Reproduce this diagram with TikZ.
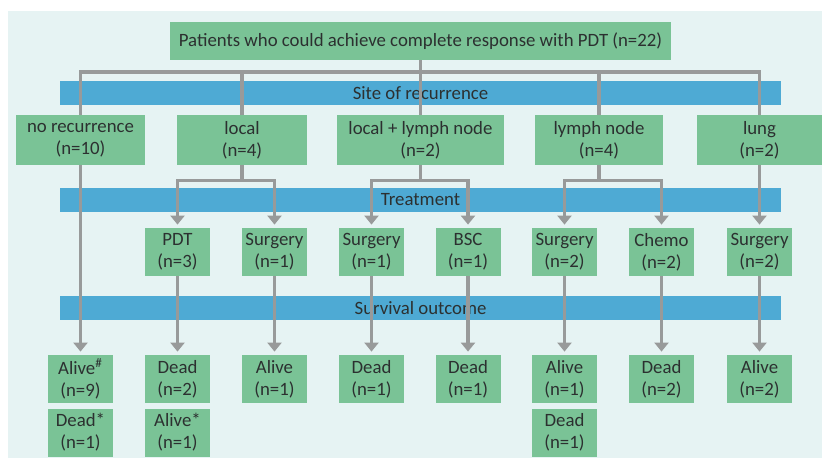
\documentclass[tikz,border=0pt]{standalone}
\usepackage{fontspec}
\setmainfont{Carlito}
\usetikzlibrary{arrows.meta}
\definecolor{boxgreen}{RGB}{122,195,150}
\definecolor{barblue}{RGB}{78,170,212}
\definecolor{linegray}{RGB}{152,154,154}
\definecolor{txtgray}{RGB}{44,48,48}
\definecolor{bgcyan}{RGB}{230,243,243}

\begin{document}
\begin{tikzpicture}
[x=0.5pt,y=-0.5pt,
 every node/.style={text=txtgray,font=\fontsize{9.4}{11}\selectfont},
 box/.style={fill=boxgreen,inner sep=0pt,align=center},
 cat/.style={box,minimum height=25pt},
 small/.style={box,minimum width=32.5pt,minimum height=24pt},
 bar/.style={fill=barblue,inner sep=0pt,minimum width=360.5pt,minimum height=12pt},
 line/.style={draw=linegray,line width=1.6pt},
 arrow/.style={line,-{Triangle[width=7pt,length=4.5pt]},shorten >=1.5pt}]
\useasboundingbox (0,0) rectangle (822,458);
\fill[white] (0,0) rectangle (822,458);
\fill[bgcyan] (8,11) rectangle (822,458);

\node[box,minimum width=250.5pt,minimum height=19pt] (v0) at (420.5,41) {Patients who could achieve complete response with PDT (n=22)};

\node[bar] (s1) at (420.5,93) {Site of recurrence};
\node[bar] (s2) at (420.5,200) {Treatment};
\node[bar] (s3) at (420.5,308.5) {Survival outcome};

\node[cat,minimum width=64.5pt] (v1) at (80.5,140) {no recurrence\\(n=10)};
\node[cat,minimum width=65pt] (v2) at (242,140) {local\\(n=4)};
\node[cat,minimum width=83.5pt] (v3) at (420.5,140) {local + lymph node\\(n=2)};
\node[cat,minimum width=64pt] (v4) at (599,140) {lymph node\\(n=4)};
\node[cat,minimum width=62.5pt] (v5) at (759.5,140) {lung\\(n=2)};

\node[small] (v6) at (177.5,252) {PDT\\(n=3)};
\node[small] (v7) at (274.5,252) {Surgery\\(n=1)};
\node[small] (v8) at (371.5,252) {Surgery\\(n=1)};
\node[small] (v9) at (468,252) {BSC\\(n=1)};
\node[small] (v10) at (564.5,252) {Surgery\\(n=2)};
\node[small] (v11) at (661.5,252) {Chemo\\(n=2)};
\node[small] (v12) at (759.5,252) {Surgery\\(n=2)};

\node[small] (v13) at (80.5,379) {Alive\textsuperscript{\#}\\(n=9)};
\node[small] (v14) at (177.5,379) {Dead\\(n=2)};
\node[small] (v15) at (274.5,379) {Alive\\(n=1)};
\node[small] (v16) at (371.5,379) {Dead\\(n=1)};
\node[small] (v17) at (468,379) {Dead\\(n=1)};
\node[small] (v18) at (564.5,379) {Alive\\(n=1)};
\node[small] (v19) at (661.5,379) {Dead\\(n=2)};
\node[small] (v20) at (759.5,379) {Alive\\(n=2)};

\node[small] (v21) at (80.5,432.5) {Dead*\\(n=1)};
\node[small] (v22) at (177.5,432.5) {Alive*\\(n=1)};
\node[small] (v23) at (564.5,432.5) {Dead\\(n=1)};

\coordinate (h1) at (80.5,72);
\coordinate (h2) at (759.5,72);
\draw[line] (v1.north) -- (h1) -- (h2) -- (v5.north);
\foreach \n in {v0,v2,v4}
\draw[line] (\n) -- (\n |- h1);
\draw[line] (v0.south) -- (v3.north);

\foreach \from/\l/\r in {v2/v6/v7,v3/v8/v9,v4/v10/v11}
{\draw[line] (\from.south) -- ++(0,15) coordinate (b);
 \draw[arrow] (b) -| (\l.north);
 \draw[arrow] (b) -| (\r.north);}

\foreach \from/\to in {v1/v13,v5/v12,v6/v14,v7/v15,v8/v16,v9/v17,v10/v18,v11/v19,v12/v20}
\draw[arrow] (\from) -- (\to);
\end{tikzpicture}
\end{document}
